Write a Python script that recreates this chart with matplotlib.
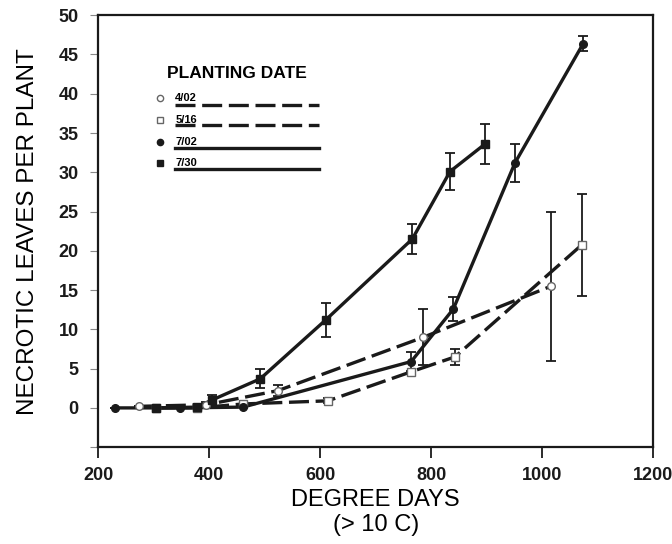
import matplotlib
matplotlib.use("Agg")
import matplotlib.pyplot as plt

plt.rcParams['font.family'] = ['Liberation Sans', 'DejaVu Sans']

# --- data ---
d0402_x = [274, 395, 524, 786, 1016]
d0402_y = [0.2, 0.4, 2.2, 9.0, 15.5]
d0402_e = [0.0, 0.3, 0.7, 3.6, 9.5]

d0516_x = [304, 378, 461, 614, 764, 843, 1072]
d0516_y = [0.0, 0.0, 0.5, 0.9, 4.6, 6.5, 20.8]
d0516_e = [0.0, 0.0, 0.0, 0.3, 0.0, 1.0, 6.5]

d0702_x = [230, 348, 461, 764, 840, 951, 1074]
d0702_y = [0.0, 0.0, 0.1, 5.9, 12.6, 31.2, 46.4]
d0702_e = [0.0, 0.0, 0.0, 1.2, 1.5, 2.4, 0.9]

d0730_x = [304, 378, 405, 492, 610, 766, 834, 897]
d0730_y = [0.0, 0.1, 1.0, 3.7, 11.2, 21.5, 30.1, 33.6]
d0730_e = [0.0, 0.0, 0.6, 1.2, 2.2, 1.9, 2.3, 2.6]

labels = ['4/02', '5/16', '7/02', '7/30']
xticks = [200, 400, 600, 800, 1000, 1200]
yticks = [0, 5, 10, 15, 20, 25, 30, 35, 40, 45, 50]

fig = plt.figure(figsize=(6.72, 5.44), dpi=100)
ax = fig.add_axes([0.146, 0.178, 0.826, 0.794])

ink = '#1a1a1a'
dash = (0, (6, 2))
series = [
    (d0402_x, d0402_y, d0402_e, 'o', 'white', dash),
    (d0516_x, d0516_y, d0516_e, 's', 'white', dash),
    (d0702_x, d0702_y, d0702_e, 'o', ink, '-'),
    (d0730_x, d0730_y, d0730_e, 's', ink, '-'),
]
for xs, ys, es, mk, fc, ls in series:
    ax.errorbar(xs, ys, yerr=es, fmt='none', ecolor=ink, elinewidth=1.3,
                capsize=3.5, capthick=1.3, zorder=2)
    ax.plot(xs, ys, color=ink, lw=2.4, linestyle=ls, zorder=3)
    ax.plot(xs, ys, linestyle='none', marker=mk, ms=5.5, mfc=fc,
            mec='#666666' if fc == 'white' else ink, mew=1.0, zorder=4)

ax.set_xlim(200, 1200)
ax.set_ylim(-5, 50)
ax.set_xticks(xticks)
ax.set_xticklabels([str(t) for t in xticks], fontsize=13, fontweight='bold')
ax.set_yticks([-5] + yticks)
ax.set_yticklabels([''] + [str(t) for t in yticks], fontsize=13, fontweight='bold')
ax.tick_params(axis='x', direction='out', length=8, width=1.3, colors=ink, pad=6)
ax.tick_params(axis='y', direction='out', length=6, width=0.8, colors=ink, pad=8)
ax.tick_params(axis='y', colors='#888888', labelcolor=ink)
for s in ax.spines.values():
    s.set_linewidth(1.6)
    s.set_color(ink)

ax.set_xlabel('DEGREE DAYS\n(> 10 C)', fontsize=17, linespacing=1.15, labelpad=4)
ax.set_ylabel('NECROTIC LEAVES PER PLANT', fontsize=17.5, labelpad=14)

# manual legend
ax.text(0.25, 0.865, 'PLANTING DATE', transform=ax.transAxes, fontsize=12.5,
        fontweight='bold', ha='center', va='center')
rows_y = [0.808, 0.757, 0.706, 0.658]
line_y = [0.793, 0.745, 0.692, 0.645]
mks = ['o', 's', 'o', 's']
fcs = ['white', 'white', ink, ink]
lss = [dash, dash, '-', '-']
for lab, ry, ly, mk, fc, ls in zip(labels, rows_y, line_y, mks, fcs, lss):
    ax.plot([0.112], [ry], transform=ax.transAxes, marker=mk, ms=4.5,
            mfc=fc, mec='#666666' if fc == 'white' else ink, mew=1.0, clip_on=False)
    ax.text(0.139, ry, lab, transform=ax.transAxes, fontsize=8, fontweight='bold',
            ha='left', va='center')
    ax.plot([0.139, 0.398], [ly, ly], transform=ax.transAxes, color=ink, lw=2.4,
            linestyle=ls)

fig.savefig('out.png', dpi=100)
